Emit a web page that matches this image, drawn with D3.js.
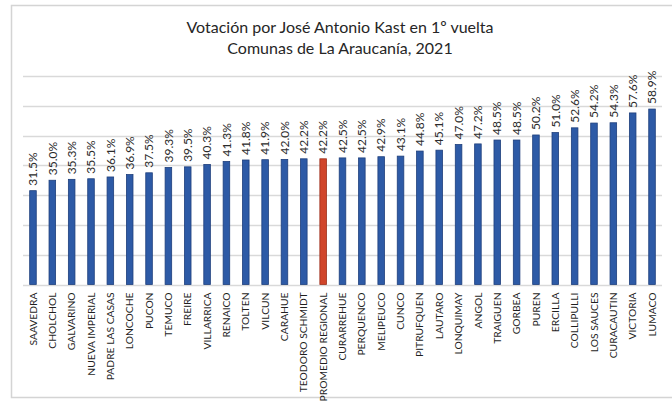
<!DOCTYPE html>
<html>
<head>
<meta charset="utf-8">
<script src="https://cdn.jsdelivr.net/npm/d3@7"></script>
<style>
  body { margin: 0; background: #fff; }
  svg { display: block; font-family: Lato, "Open Sans", sans-serif; }
</style>
</head>
<body>
<svg id="chart" width="672" height="403"></svg>
<script>
// data
var comunas = ["SAAVEDRA", "CHOLCHOL", "GALVARINO", "NUEVA IMPERIAL", "PADRE LAS CASAS",
    "LONCOCHE", "PUCON", "TEMUCO", "FREIRE", "VILLARRICA", "RENAICO", "TOLTEN", "VILCUN",
    "CARAHUE", "TEODORO SCHMIDT", "PROMEDIO REGIONAL", "CURARREHUE", "PERQUENCO",
    "MELIPEUCO", "CUNCO", "PITRUFQUEN", "LAUTARO", "LONQUIMAY", "ANGOL", "TRAIGUEN",
    "GORBEA", "PUREN", "ERCILLA", "COLLIPULLI", "LOS SAUCES", "CURACAUTIN", "VICTORIA", "LUMACO"];
var votos = [31.5, 35.0, 35.3, 35.5, 36.1, 36.9, 37.5, 39.3, 39.5, 40.3, 41.3, 41.8, 41.9,
    42.0, 42.2, 42.2, 42.5, 42.5, 42.9, 43.1, 44.8, 45.1, 47.0, 47.2, 48.5,
    48.5, 50.2, 51.0, 52.6, 54.2, 54.3, 57.6, 58.9];
var destacado = "PROMEDIO REGIONAL";
var gridTicks = [0, 10, 20, 30, 40, 50, 60, 70];
var titulo = ["Votación por José Antonio Kast en 1º vuelta", "Comunas de La Araucanía, 2021"];

var svg = d3.select("#chart");

// frame
svg.append("path")
    .attr("d", "M672,5.5 H11.5 V397.5 H672")
    .attr("fill", "none")
    .attr("stroke", "#d4d4d4")
    .attr("stroke-width", 1.5);

var x = d3.scaleBand()
    .domain(comunas)
    .range([23.3, 661.7])
    .paddingInner(0.66)
    .paddingOuter(0.33);

var y = d3.scaleLinear()
    .domain([0, 70])
    .range([284.5, 76]);

// grid
svg.append("g").selectAll("line")
    .data(gridTicks)
    .enter().append("line")
    .attr("x1", 23)
    .attr("x2", 662)
    .attr("y1", function(d) { return Math.round(y(d)) + 0.5; })
    .attr("y2", function(d) { return Math.round(y(d)) + 0.5; })
    .attr("stroke", "#d9d9d9")
    .attr("stroke-width", 1.3);

// bars
var bars = svg.append("g");
comunas.forEach(function(c, i) {
    var rojo = c === destacado;
    bars.append("rect")
        .attr("x", x(c))
        .attr("y", y(votos[i]))
        .attr("width", x.bandwidth())
        .attr("height", y(0) - y(votos[i]))
        .attr("fill", rojo ? "#d0452a" : "#2d5aa6")
        .attr("stroke", rojo ? "#9c2f1a" : "#1e3f7c")
        .attr("stroke-width", 0.8);

    bars.append("text")
        .attr("transform", "translate(" + (x(c) + x.bandwidth() / 2) + "," + (y(votos[i]) - 5) + ") rotate(-90)")
        .attr("dy", "0.35em")
        .attr("font-size", 12)
        .attr("fill", "#2b2b2b")
        .text(votos[i].toFixed(1) + "%");
});

// category labels
svg.append("g").selectAll("text")
    .data(comunas)
    .enter().append("text")
    .attr("transform", function(d) {
        return "translate(" + (x(d) + x.bandwidth() / 2) + "," + (y(0) + 8) + ") rotate(-90)";
    })
    .attr("text-anchor", "end")
    .attr("dy", "0.35em")
    .attr("font-size", 10.3)
    .attr("fill", "#1f1f1f")
    .text(function(d) { return d; });

// title
svg.append("g").selectAll("text")
    .data(titulo)
    .enter().append("text")
    .attr("x", 340)
    .attr("y", function(d, i) { return 33 + i * 21; })
    .attr("text-anchor", "middle")
    .attr("font-size", 16)
    .attr("fill", "#262626")
    .text(function(d) { return d; });
</script>
</body>
</html>
